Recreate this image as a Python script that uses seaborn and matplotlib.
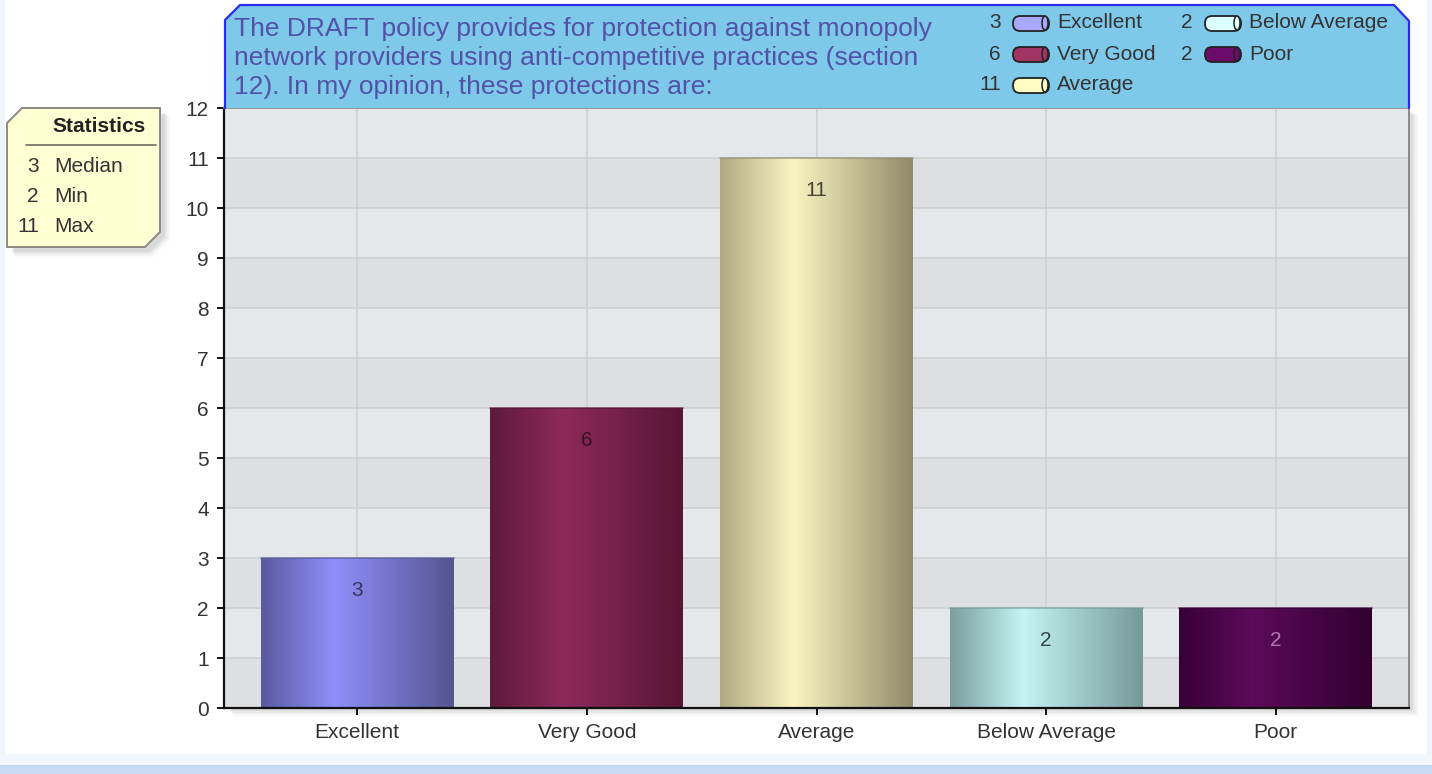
import numpy as np
import pandas as pd
import matplotlib
matplotlib.use("Agg")
import matplotlib.pyplot as plt
import seaborn as sns
from matplotlib.patches import Polygon, FancyBboxPatch, Ellipse, Rectangle
from matplotlib.colors import to_rgb

# ---------------- data ----------------
categories = ["Excellent", "Very Good", "Average", "Below Average", "Poor"]
counts = [3, 6, 11, 2, 2]
title_lines = [
    "The DRAFT policy provides for protection against monopoly",
    "network providers using anti-competitive practices (section",
    "12). In my opinion, these protections are:",
]
stat_names = ["Median", "Min", "Max"]
stat_values = [3, 2, 11]
y_ticks = list(range(0, 13))

# cylinder gradient colours: (left edge, highlight, right edge)
bar_grad = [
    ("#5a5a9e", "#8f8ffc", "#555590"),
    ("#5e1a3a", "#8e2a58", "#561634"),
    ("#aeaa84", "#f9f6c2", "#8e8a6a"),
    ("#7c9e9e", "#c4f4f4", "#769a98"),
    ("#380036", "#5c0a5a", "#320030"),
]
base_colors = [g[1] for g in bar_grad]
legend_colors = ["#a8a8ff", "#a03462", "#fffcc4", "#dcffff", "#6c0c6a"]
label_colors = ["#36365a", "#3a1020", "#444433", "#334444", "#b07ab0"]

W, H = 1432, 774
FS = 15
sns.set_theme(style="white")
plt.rcParams["font.family"] = ["Liberation Sans", "DejaVu Sans"]

fig = plt.figure(figsize=(W / 100, H / 100), dpi=100)
fig.patch.set_facecolor("white")


def fx(px):
    return px / W


def fy(py):
    return 1 - py / H


def fig_poly(pts, **kw):
    p = Polygon([(fx(x), fy(y)) for x, y in pts], closed=True,
                transform=fig.transFigure, **kw)
    fig.add_artist(p)
    return p


def fig_rect(x0, y0, x1, y1, **kw):
    r = Rectangle((fx(x0), fy(y1)), fx(x1) - fx(x0), fy(y0) - fy(y1),
                  transform=fig.transFigure, **kw)
    fig.add_artist(r)
    return r


# page edges
fig_rect(0, 0, 5, 774, facecolor="#eef4fc", edgecolor="none", zorder=0)
fig_rect(1427, 0, 1432, 774, facecolor="#eef4fc", edgecolor="none", zorder=0)
fig_rect(0, 754, 1432, 765, facecolor="#f2f7fd", edgecolor="none", zorder=0)
fig_rect(0, 765, 1432, 774, facecolor="#c5daf5", edgecolor="none", zorder=0)

# plot area shadow
for i, a in enumerate([0.05, 0.04, 0.03, 0.02]):
    fig_rect(230 + i, 112 + i, 1413 + 2 * i, 711 + 2 * i,
             facecolor="#000000", alpha=a, edgecolor="none", zorder=0.5)

# ---------------- axes ----------------
x0, x1, ytop, ybot = 224, 1409, 108, 708
ax = fig.add_axes([fx(x0), fy(ybot), fx(x1) - fx(x0), fy(ytop) - fy(ybot)])
ax.set_facecolor("#e4e7ea")
ax.set_zorder(1)

df = pd.DataFrame({"category": categories, "count": counts})
sns.barplot(data=df, x="category", y="count", hue="category",
            palette=base_colors, width=0.84, legend=False, ax=ax,
            saturation=1, zorder=3, edgecolor="none")
bars = [b for c in ax.containers for b in c]

for k in range(12):
    ax.axhspan(k, k + 1, facecolor="#dedfe1" if k % 2 == 0 else "#e5e8eb",
               edgecolor="none", zorder=0)

ax.set_xlim(-0.58, 4.58)
ax.set_ylim(0, 12)
ax.set_yticks(y_ticks)
ax.set_yticklabels([str(t) for t in y_ticks])
ax.set_xlabel("")
ax.set_ylabel("")

ax.grid(True, color="#cfd0d2", linewidth=1.2, zorder=1)
ax.set_axisbelow(True)

# gradients inside bars
for patch, (cl, cm, cr) in zip(bars, bar_grad):
    bx, by = patch.get_x(), patch.get_y()
    bw, bh = patch.get_width(), patch.get_height()
    stops = [0.0, 0.38, 1.0]
    cols = np.array([to_rgb(cl), to_rgb(cm), to_rgb(cr)])
    t = np.linspace(0, 1, 200)
    grad = np.stack([np.interp(t, stops, cols[:, c]) for c in range(3)], axis=-1)
    img = ax.imshow(grad[np.newaxis, :, :], extent=[bx, bx + bw, by, by + bh],
                    aspect="auto", zorder=3.5, interpolation="bicubic")
    img.set_clip_path(patch)
    ax.plot([bx, bx + bw], [by + bh, by + bh], color=cr, lw=1.2, zorder=3.6,
            alpha=0.7)

for patch, v, lc in zip(bars, counts, label_colors):
    ax.annotate(str(v), (patch.get_x() + patch.get_width() / 2, patch.get_height()),
                xytext=(0, -33), textcoords="offset pixels", ha="center",
                va="center", fontsize=FS, color=lc, zorder=5)

for s in ["left", "bottom"]:
    ax.spines[s].set_color("#111111")
    ax.spines[s].set_linewidth(1.6)
ax.spines["right"].set_color("#7a7a7a")
ax.spines["right"].set_linewidth(1.2)
ax.spines["top"].set_color("#8a8a8a")
ax.spines["top"].set_linewidth(1.2)
for s in ax.spines.values():
    s.set_zorder(6)

ax.tick_params(axis="y", left=True, length=5, width=1.4, color="#111111",
               pad=6, labelsize=FS, labelcolor="#333333")
ax.tick_params(axis="x", bottom=True, length=5, width=1.4, color="#111111",
               pad=6, labelsize=FS, labelcolor="#333333")

# ---------------- title box ----------------
fig_poly([(225, 108), (225, 20), (240, 5), (1394, 5), (1409, 21), (1409, 108)],
         facecolor="#7ec8e9", edgecolor="none", zorder=2)
fig.add_artist(plt.Line2D([fx(225), fx(225), fx(240), fx(1394), fx(1409), fx(1409)],
                          [fy(108), fy(20), fy(5), fy(5), fy(21), fy(108)],
                          transform=fig.transFigure, color="#2a2af0", lw=1.6,
                          zorder=2.1))
for i, line in enumerate(title_lines):
    fig.text(fx(234), fy(29 + 29 * i), line, ha="left", va="center",
             fontsize=19, color="#5252a8", zorder=3)

# legend inside title box
leg_pos = [(1001, 23), (1001, 54), (1001, 85), (1193, 23), (1193, 54)]
for (px, py), name, v, col in zip(leg_pos, categories, counts, legend_colors):
    fig.text(fx(px), fy(py), str(v), ha="right", va="center", fontsize=FS,
             color="#333333", zorder=3)
    capsule = FancyBboxPatch((fx(px + 12), fy(py + 8)), fx(36), 15 / H,
                             boxstyle="round,pad=0,rounding_size=0.005",
                             transform=fig.transFigure, facecolor=col,
                             edgecolor="#222222", lw=1.3, zorder=3,
                             mutation_aspect=W / H)
    fig.add_artist(capsule)
    fig.add_artist(Ellipse((fx(px + 44), fy(py)), fx(6), 14 / H,
                           transform=fig.transFigure, facecolor=col,
                           edgecolor="#222222", lw=1.1, zorder=3.1))
    fig.text(fx(px + 56), fy(py), name, ha="left", va="center", fontsize=FS,
             color="#333333", zorder=3)

# ---------------- statistics box ----------------
for i, a in enumerate([0.06, 0.045, 0.03, 0.015]):
    fig_poly([(12 + i, 128 + i), (27 + i, 113 + i), (165 + 2 * i, 113 + i),
              (165 + 2 * i, 237 + i), (150 + i, 252 + 2 * i), (12 + i, 252 + 2 * i)],
             facecolor="#000000", alpha=a, edgecolor="none", zorder=1.5)
fig_poly([(7, 123), (22, 108), (160, 108), (160, 232), (145, 247), (7, 247)],
         facecolor="#ffffd4", edgecolor="#8a8a80", lw=1.4, zorder=2)
fig.text(fx(146), fy(127), "Statistics", ha="right", va="center", fontsize=FS,
         fontweight="bold", color="#222222", zorder=3)
fig.add_artist(plt.Line2D([fx(26), fx(156)], [fy(145), fy(145)],
                          transform=fig.transFigure, color="#77776a", lw=1.3,
                          zorder=3))
for i, (nm, v) in enumerate(zip(stat_names, stat_values)):
    yy = 166 + 30.5 * i
    fig.text(fx(39), fy(yy), str(v), ha="right", va="center", fontsize=FS,
             color="#333333", zorder=3)
    fig.text(fx(54), fy(yy), nm, ha="left", va="center", fontsize=FS,
             color="#333333", zorder=3)

fig.savefig("out.png", dpi=100)
